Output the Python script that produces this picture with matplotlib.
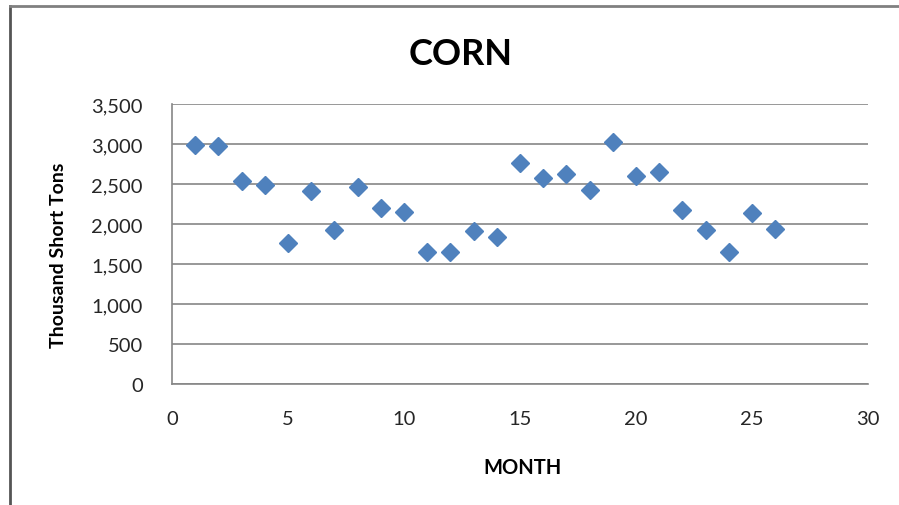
import matplotlib
matplotlib.use("Agg")
import matplotlib.pyplot as plt
from matplotlib.lines import Line2D
from matplotlib.ticker import FuncFormatter

plt.rcParams['font.family'] = ['Lato', 'DejaVu Sans']

months = list(range(1, 27))
tons = [2990, 2975, 2540, 2490, 1760, 2410, 1925, 2465, 2200, 2155,
        1655, 1645, 1910, 1835, 2760, 2570, 2625, 2420, 3020, 2605,
        2645, 2175, 1925, 1655, 2135, 1935]

title = "CORN"
xlabel = "MONTH"
ylabel = "Thousand Short Tons"

fig = plt.figure(figsize=(8.99, 5.06), dpi=100)
ax = fig.add_axes([0.1913, 0.2391, 0.7742, 0.5534])

ax.plot(months, tons, linestyle='none', marker='D', markersize=9.5,
        color='#4F81BD', markeredgecolor='#4F81BD')

ax.set_xlim(0, 30)
ax.set_ylim(0, 3500)
ax.set_xticks(range(0, 31, 5))
ax.set_yticks(range(0, 3501, 500))
ax.yaxis.set_major_formatter(FuncFormatter(lambda v, p: f"{int(v):,}"))
ax.grid(axis='y', color='#868686', linewidth=1.2)
ax.set_axisbelow(True)
for s in ['top', 'right']:
    ax.spines[s].set_visible(False)
for s in ['left', 'bottom']:
    ax.spines[s].set_color('#868686')
    ax.spines[s].set_linewidth(1.2)
ax.tick_params(axis='both', length=0, labelsize=14.5, labelcolor='#262626')
ax.tick_params(axis='x', pad=19)
ax.tick_params(axis='y', pad=21)

ax.set_xlabel(xlabel, fontsize=14.5, fontweight='bold')
ax.xaxis.set_label_coords(0.504, -0.262)
ax.set_ylabel(ylabel, fontsize=14, fontweight='bold')
ax.yaxis.set_label_coords(-0.151, 0.464)
fig.text(0.512, 0.893, title, fontsize=26, fontweight='bold', ha='center', va='center')

# outer frame lines (left and top)
fig.add_artist(Line2D([0.0115, 0.0115], [0, 0.986], transform=fig.transFigure,
                      color='#555555', linewidth=2))
fig.add_artist(Line2D([0.0115, 1], [0.986, 0.986], transform=fig.transFigure,
                      color='#808080', linewidth=2))

fig.savefig("out.png", dpi=100)
